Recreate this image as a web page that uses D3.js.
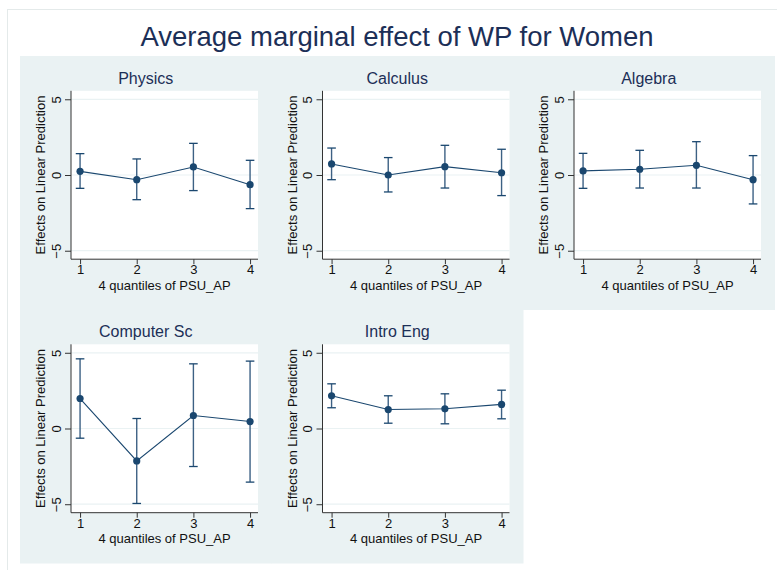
<!DOCTYPE html>
<html>
<head>
<meta charset="utf-8">
<script src="https://cdn.jsdelivr.net/npm/d3@7"></script>
<style>
  html, body { margin: 0; padding: 0; background: #ffffff; }
  svg { display: block; font-family: "Liberation Sans", Arial, Helvetica, sans-serif; }
</style>
</head>
<body>
<svg id="chart" width="777" height="570"></svg>
<script>
// Average marginal effects by quartile of PSU_AP, one panel per course
const chartTitle = "Average marginal effect of WP for Women";
const courses = ["Physics", "Calculus", "Algebra", "Computer Sc", "Intro Eng"];
const quantiles = [1, 2, 3, 4];
const yTicks = [-5, 0, 5];
const xTitle = "4 quantiles of PSU_AP";
const yTitle = "Effects on Linear Prediction";

// point estimates per course (rows follow `courses`)
const estimates = [
  [0.24, -0.31, 0.53, -0.64],
  [0.73, 0.00, 0.55, 0.15],
  [0.27, 0.38, 0.64, -0.31],
  [1.98, -2.14, 0.86, 0.46],
  [2.16, 1.25, 1.30, 1.59]
];
// lower and upper confidence bounds
const lowerCI = [
  [-0.88, -1.63, -1.03, -2.22],
  [-0.31, -1.12, -0.86, -1.36],
  [-0.88, -0.86, -0.86, -1.91],
  [-0.64, -4.95, -2.51, -3.54],
  [1.37, 0.35, 0.31, 0.64]
];
const upperCI = [
  [1.41, 1.06, 2.09, 0.97],
  [1.78, 1.15, 1.96, 1.70],
  [1.43, 1.63, 2.20, 1.28],
  [4.60, 0.66, 4.27, 4.45],
  [2.95, 2.16, 2.29, 2.53]
];

const svg = d3.select("#chart");
const regionColor = "#eaf2f3";
const markColor = "#1a476f";
const titleColor = "#1c2f57";

// outer frame
svg.append("rect")
  .attr("x", 7.5).attr("y", 9.5).attr("width", 800).attr("height", 600)
  .attr("fill", "#ffffff").attr("stroke", "#e4eaea").attr("stroke-width", 1);

// overall title
svg.append("text")
  .attr("x", 397).attr("y", 46)
  .attr("text-anchor", "middle")
  .attr("font-size", 27.5)
  .attr("fill", titleColor)
  .text(chartTitle);

const panelW = 251.5, panelH = 253.5;
const originX = 20, originY = 56;
const cols = 3;

// shared scales in panel coordinates
const x = d3.scaleLinear().domain([0.84, 4.14]).range([51, 238]);
const y = d3.scaleLinear().domain([-5.56, 5.56]).range([203.2, 34.8]);

courses.forEach((course, i) => {
  const col = i % cols, row = Math.floor(i / cols);
  const g = svg.append("g")
    .attr("transform", `translate(${originX + col * panelW},${originY + row * panelH})`);

  // panel background
  g.append("rect")
    .attr("x", 0).attr("y", 0).attr("width", panelW + 0.5).attr("height", panelH + 0.5)
    .attr("fill", regionColor);

  // plot area
  g.append("rect")
    .attr("x", x.range()[0]).attr("y", y.range()[1])
    .attr("width", x.range()[1] - x.range()[0])
    .attr("height", y.range()[0] - y.range()[1])
    .attr("fill", "#ffffff");

  // gridlines
  g.selectAll(".grid").data(yTicks).enter().append("line")
    .attr("x1", x.range()[0]).attr("x2", x.range()[1])
    .attr("y1", d => y(d)).attr("y2", d => y(d))
    .attr("stroke", regionColor).attr("stroke-width", 1.2);

  // panel title
  g.append("text")
    .attr("x", panelW / 2).attr("y", 27.5)
    .attr("text-anchor", "middle")
    .attr("font-size", 16)
    .attr("fill", titleColor)
    .text(course);

  // y axis
  const yAxis = g.append("g")
    .attr("transform", `translate(${x.range()[0]},0)`)
    .call(d3.axisLeft(y).tickValues(yTicks).tickSize(6).tickPadding(4)
      .tickFormat(d => d < 0 ? "\u2212" + Math.abs(d) : String(d)));
  yAxis.select(".domain").attr("stroke", "#333").attr("d",
    `M0,${y.range()[0]}V${y.range()[1]}`);
  yAxis.selectAll(".tick line").attr("stroke", "#333");
  yAxis.selectAll(".tick text")
    .attr("font-size", 13).attr("fill", "#111")
    .attr("font-family", "Liberation Sans, Arial, sans-serif")
    .attr("transform", "rotate(-90)")
    .attr("x", 0).attr("y", -10.5)
    .attr("dy", 0)
    .attr("text-anchor", "middle");

  // x axis
  const xAxis = g.append("g")
    .attr("transform", `translate(0,${y.range()[0]})`)
    .call(d3.axisBottom(x).tickValues(quantiles).tickSize(5).tickPadding(1)
      .tickFormat(d3.format("d")));
  xAxis.select(".domain").attr("stroke", "#333").attr("d",
    `M${x.range()[0]},0H${x.range()[1]}`);
  xAxis.selectAll(".tick line").attr("stroke", "#333");
  xAxis.selectAll(".tick text")
    .attr("font-size", 13).attr("fill", "#111")
    .attr("font-family", "Liberation Sans, Arial, sans-serif");

  // axis titles
  g.append("text")
    .attr("transform", `translate(25,${(y.range()[0] + y.range()[1]) / 2}) rotate(-90)`)
    .attr("text-anchor", "middle")
    .attr("font-size", 13).attr("fill", "#111")
    .text(yTitle);
  g.append("text")
    .attr("x", (x.range()[0] + x.range()[1]) / 2).attr("y", 233.5)
    .attr("text-anchor", "middle")
    .attr("font-size", 13).attr("fill", "#111")
    .text(xTitle);

  const pts = quantiles.map((q, j) => ({
    q, est: estimates[i][j], lo: lowerCI[i][j], hi: upperCI[i][j]
  }));

  // confidence intervals
  const ci = g.selectAll(".ci").data(pts).enter().append("g");
  ci.append("line")
    .attr("x1", d => x(d.q)).attr("x2", d => x(d.q))
    .attr("y1", d => y(d.lo)).attr("y2", d => y(d.hi))
    .attr("stroke", "#3d6184").attr("stroke-width", 1.4);
  ci.selectAll(".cap").data(d => [d.lo, d.hi].map(v => ({ q: d.q, v })))
    .enter().append("line")
    .attr("x1", d => x(d.q) - 4.3).attr("x2", d => x(d.q) + 4.3)
    .attr("y1", d => y(d.v)).attr("y2", d => y(d.v))
    .attr("stroke", markColor).attr("stroke-width", 1.3);

  // connecting line
  g.append("path")
    .datum(pts)
    .attr("fill", "none")
    .attr("stroke", markColor).attr("stroke-width", 1.1)
    .attr("d", d3.line().x(d => x(d.q)).y(d => y(d.est)));

  // point markers
  g.selectAll(".pt").data(pts).enter().append("circle")
    .attr("cx", d => x(d.q)).attr("cy", d => y(d.est))
    .attr("r", 3.6)
    .attr("fill", markColor);
});
</script>
</body>
</html>
